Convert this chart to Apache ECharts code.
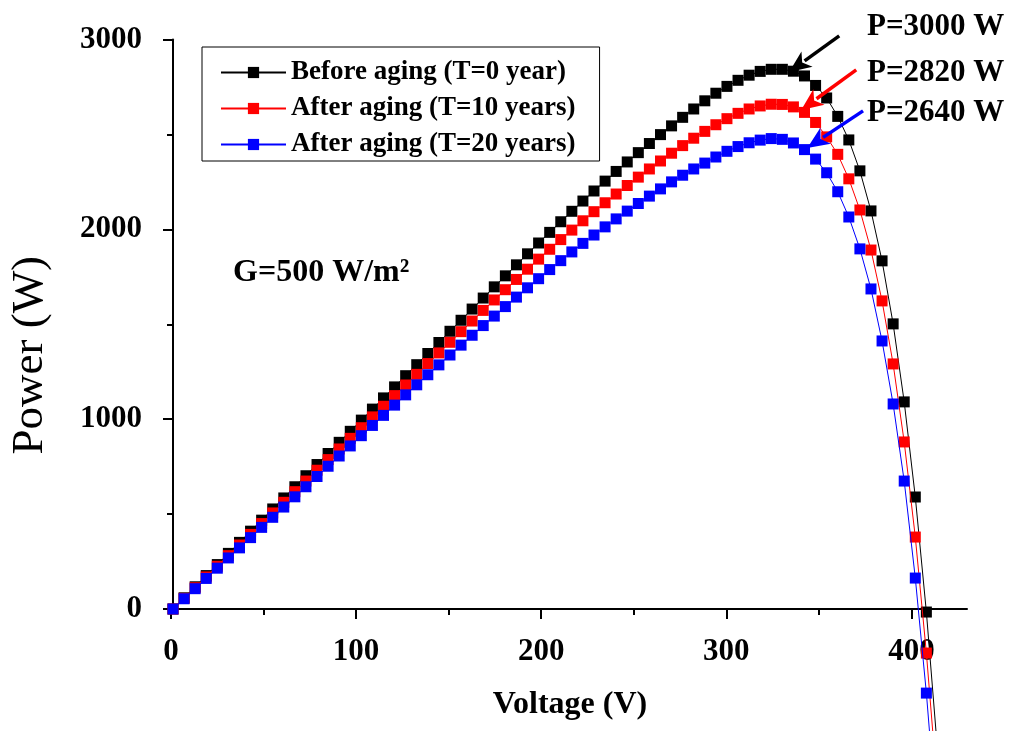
<!DOCTYPE html>
<html>
<head>
<meta charset="utf-8">
<script src="https://cdn.jsdelivr.net/npm/echarts@6/dist/echarts.min.js"></script>
<style>html,body{margin:0;padding:0;background:#fff}#c{width:1011px;height:731px}</style>
</head>
<body>
<div id="c"></div>
<script>
const voltage = [0,6,12,18,24,30,36,42,48,54,60,66,72,78,84,90,96,102,108,114,120,126,132,138,144,150,156,162,168,174,180,186,192,198,204,210,216,222,228,234,240,246,252,258,264,270,276,282,288,294,300,306,312,318,324,330,336,342,348,354,360,366,372,378,384,390,396,402,408,414];
const powerT0 = [0,59,117,176,234,293,351,410,468,527,585,644,702,761,819,878,936,995,1053,1112,1170,1229,1287,1346,1404,1463,1521,1580,1638,1697,1755,1813,1871,1928,1984,2040,2095,2149,2202,2254,2305,2355,2404,2452,2499,2545,2590,2634,2677,2717,2753,2785,2812,2832,2843,2843,2833,2808,2758,2692,2595,2471,2308,2097,1834,1502,1091,590,-16,-740];
const powerT10 = [0,56,112,169,225,281,337,393,450,506,562,618,674,731,787,843,899,955,1012,1068,1124,1180,1236,1293,1349,1405,1461,1517,1573,1628,1682,1736,1790,1843,1895,1946,1996,2045,2093,2140,2186,2231,2275,2318,2360,2401,2441,2480,2516,2551,2583,2611,2634,2650,2659,2658,2645,2616,2563,2487,2395,2266,2102,1891,1623,1291,880,379,-232,-950];
const powerT20 = [0,54,107,161,215,269,322,376,430,483,537,591,644,698,752,806,859,913,967,1020,1074,1128,1181,1234,1286,1338,1390,1442,1493,1543,1593,1643,1692,1740,1788,1835,1881,1926,1970,2013,2055,2096,2136,2175,2213,2250,2285,2318,2349,2381,2411,2436,2456,2470,2478,2474,2455,2420,2370,2298,2198,2065,1897,1686,1412,1080,674,163,-443,-1160];
const seriesNames = ['Before aging (T=0 year)','After aging (T=10 years)','After aging (T=20 years)'];
const seriesColors = ['#000000','#ff0000','#0000ff'];
const xTicks = [0,100,200,300,400];
const yTicks = [0,1000,2000,3000];
const peakLabels = ['P=3000 W','P=2820 W','P=2640 W'];
// arrows: [tail, tip] in data coordinates
const arrows = [
  [[360.8,3019],[333.7,2829]],
  [[370.0,2840],[340.2,2629]],
  [[373.7,2624],[343.5,2429]]
];
const noteText = 'G=500 W/m²';

const FONT = '"Liberation Serif","Times New Roman",serif';
const allP = [powerT0, powerT10, powerT20];

const chart = echarts.init(document.getElementById('c'), null, {renderer:'canvas'});
const series = allP.map((arr, i) => ({
  name: seriesNames[i],
  type: 'line',
  xAxisIndex: 0, yAxisIndex: 0,
  data: voltage.map((v, j) => [v, arr[j]]),
  symbol: 'rect',
  symbolSize: 11,
  clip: false,
  color: seriesColors[i],
  lineStyle: {width: 1, color: seriesColors[i]},
  itemStyle: {color: seriesColors[i]},
  emphasis: {disabled: true},
  z: 2 + i
}));

const option = {
  animation: false,
  backgroundColor: '#fff',
  grid: [
    {left: 171, right: 44, top: 39.5, bottom: 122},
    {left: 171, right: 99.6, top: 39.5, bottom: 122}
  ],
  xAxis: [
    {
      type: 'value', gridIndex: 0, min: 0, max: 430,
      name: 'Voltage (V)', nameLocation: 'middle', nameGap: 80,
      nameTextStyle: {fontFamily: FONT, fontWeight: 'bold', fontSize: 32, color: '#000'},
      axisLine: {show: true, onZero: false, lineStyle: {color: '#000', width: 2}},
      axisTick: {show: false}, axisLabel: {show: false}, splitLine: {show: false}
    },
    {
      type: 'value', gridIndex: 1, min: xTicks[0], max: xTicks[xTicks.length-1], interval: 100,
      axisLine: {show: false},
      axisTick: {show: true, inside: false, length: 10, lineStyle: {color: '#000', width: 2}},
      minorTick: {show: true, splitNumber: 2, length: 6, lineStyle: {color: '#000', width: 2}},
      axisLabel: {show: true, margin: 27, fontFamily: FONT, fontWeight: 'bold', fontSize: 31, color: '#000',
        formatter: v => String(v)},
      splitLine: {show: false}
    }
  ],
  yAxis: [
    {
      type: 'value', gridIndex: 0, min: yTicks[0], max: yTicks[yTicks.length-1], interval: 1000,
      name: 'Power (W)', nameLocation: 'middle', nameGap: 120, nameRotate: 90,
      nameTextStyle: {fontFamily: FONT, fontWeight: 'normal', fontSize: 45, color: '#000', padding: [0, 62, 0, 0]},
      axisLine: {show: true, onZero: false, lineStyle: {color: '#000', width: 2}},
      axisTick: {show: true, inside: false, length: 10, lineStyle: {color: '#000', width: 2}},
      minorTick: {show: true, splitNumber: 2, length: 6, lineStyle: {color: '#000', width: 2}},
      axisLabel: {show: true, margin: 31, fontFamily: FONT, fontWeight: 'bold', fontSize: 31, color: '#000',
        formatter: v => String(v)},
      splitLine: {show: false}
    },
    {type: 'value', gridIndex: 1, min: 0, max: 3000, show: false}
  ],
  legend: {
    data: seriesNames,
    orient: 'vertical',
    left: 202, top: 47,
    itemWidth: 65, itemHeight: 14, itemGap: 9,
    padding: [12, 24, 3, 18],
    borderColor: '#000', borderWidth: 1,
    selectedMode: false,
    textStyle: {fontFamily: FONT, fontWeight: 'bold', fontSize: 27, color: '#000'}
  },
  graphic: [
    {type: 'text', left: 233, top: 257, style: {text: noteText, font: 'bold 32px ' + FONT, fill: '#000'}},
    {type: 'text', left: 867, top: 11, style: {text: peakLabels[0], font: 'bold 31px ' + FONT, fill: '#000'}},
    {type: 'text', left: 867, top: 57, style: {text: peakLabels[1], font: 'bold 31px ' + FONT, fill: '#000'}},
    {type: 'text', left: 867, top: 97, style: {text: peakLabels[2], font: 'bold 31px ' + FONT, fill: '#000'}}
  ],
  series: series
};
chart.setOption(option);

// Arrow annotations, positioned through the chart's own axes (data -> pixel)
const arrowGraphics = [];
arrows.forEach((a, i) => {
  const p0 = chart.convertToPixel({gridIndex: 0}, a[0]);
  const p1 = chart.convertToPixel({gridIndex: 0}, a[1]);
  const dx = p1[0] - p0[0], dy = p1[1] - p0[1];
  const len = Math.sqrt(dx*dx + dy*dy);
  const ux = dx/len, uy = dy/len;
  const headL = 22, headW = 9.5;
  const bx = p1[0] - ux*headL, by = p1[1] - uy*headL;
  const px = -uy, py = ux;
  arrowGraphics.push({
    type: 'line', silent: true, z: 10,
    shape: {x1: p0[0], y1: p0[1], x2: bx + ux*3, y2: by + uy*3},
    style: {stroke: seriesColors[i], lineWidth: 3.5}
  });
  arrowGraphics.push({
    type: 'polygon', silent: true, z: 10,
    shape: {points: [[p1[0], p1[1]], [bx + px*headW, by + py*headW], [bx + ux*6, by + uy*6], [bx - px*headW, by - py*headW]]},
    style: {fill: seriesColors[i]}
  });
});
chart.setOption({graphic: option.graphic.concat(arrowGraphics)});
</script>
</body>
</html>
